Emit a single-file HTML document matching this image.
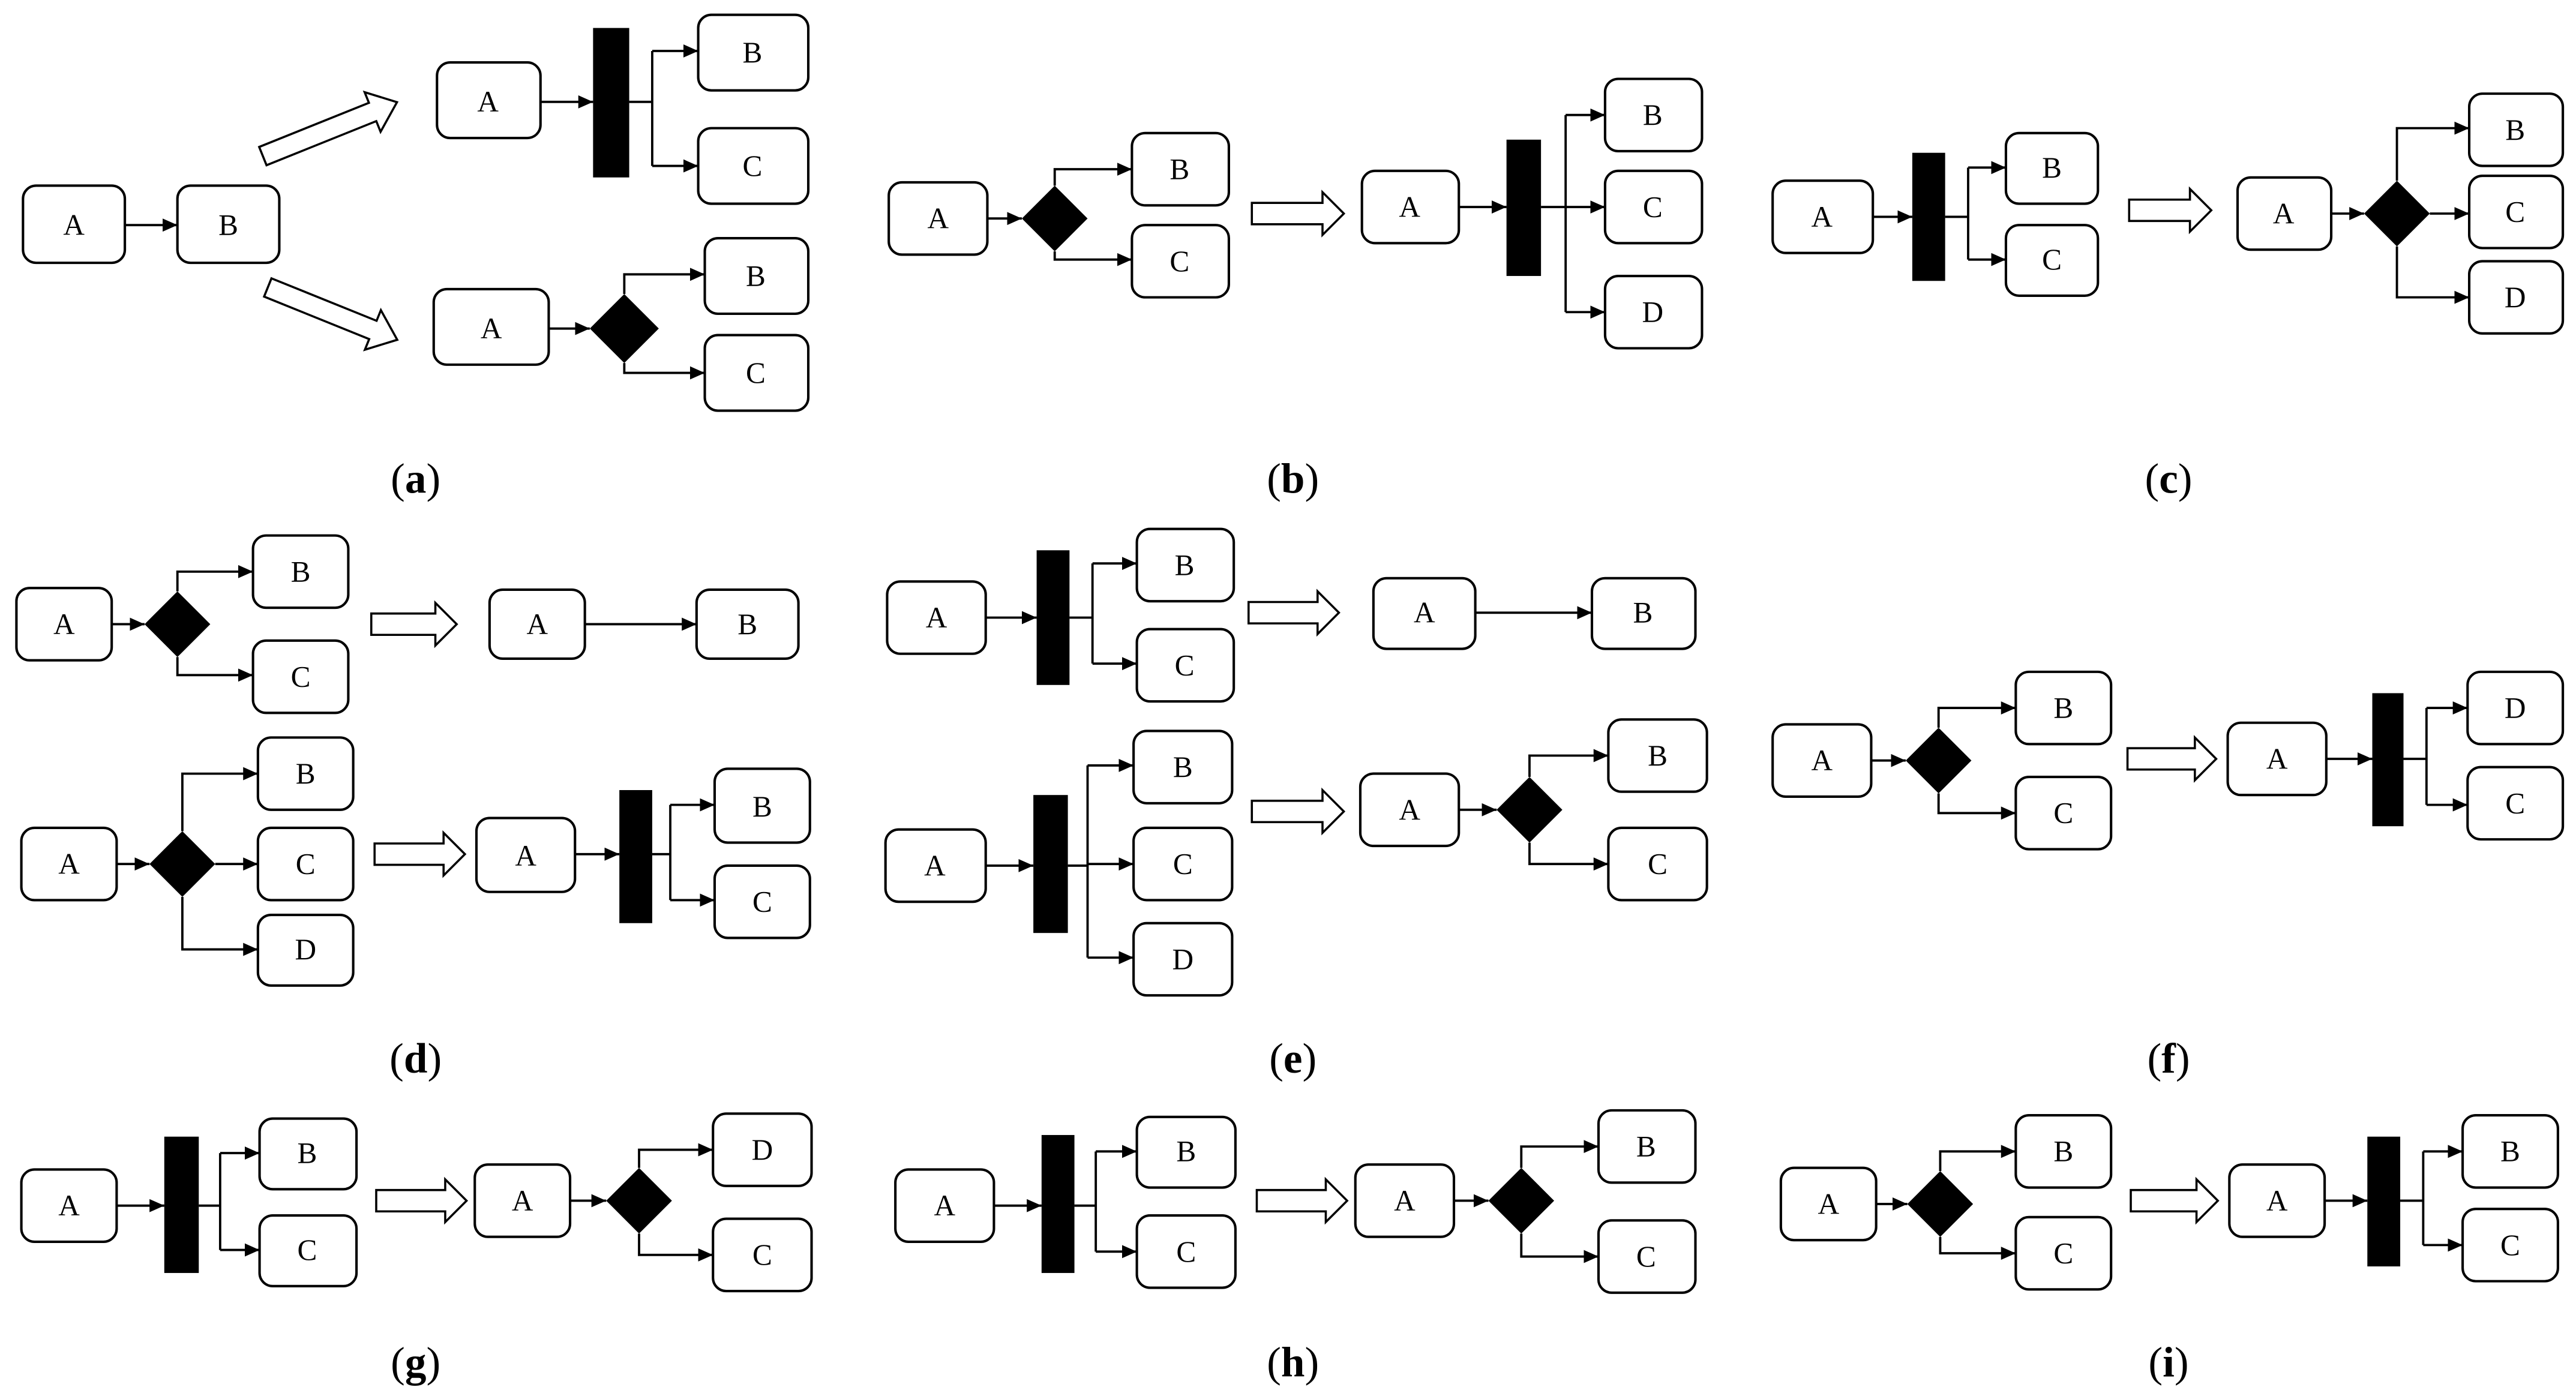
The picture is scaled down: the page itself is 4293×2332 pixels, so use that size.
<!DOCTYPE html>
<html><head><meta charset="utf-8"><style>
html,body{margin:0;padding:0;background:#fff;}
svg{display:block;}
text{font-family:"Liberation Serif",serif;fill:#000;}
.l{font-size:18px;text-anchor:middle;}
.cap{font-size:26px;text-anchor:middle;}
</style></head><body>
<svg width="4293" height="2332" viewBox="0 0 1568 851.7" xmlns="http://www.w3.org/2000/svg">
<defs>
<marker id="m" markerUnits="userSpaceOnUse" markerWidth="10" markerHeight="10" refX="9" refY="4" orient="auto"><path d="M0,0 L9,4 L0,8 z" fill="#000"/></marker>
</defs>
<g fill="#fff" stroke="#000" stroke-width="1.5">
<rect x="14" y="113" width="62" height="47" rx="8"/>
<rect x="108" y="113" width="62" height="47" rx="8"/>
<rect x="266" y="38" width="63" height="46" rx="8"/>
<rect x="425" y="9" width="67" height="46" rx="8"/>
<rect x="425" y="78" width="67" height="46" rx="8"/>
<rect x="264" y="176" width="70" height="46" rx="8"/>
<rect x="429" y="145" width="63" height="46" rx="8"/>
<rect x="429" y="204" width="63" height="46" rx="8"/>
<rect x="541" y="111" width="60" height="44" rx="8"/>
<rect x="689" y="81" width="59" height="44" rx="8"/>
<rect x="689" y="137" width="59" height="44" rx="8"/>
<rect x="829" y="104" width="59" height="44" rx="8"/>
<rect x="977" y="48" width="59" height="44" rx="8"/>
<rect x="977" y="104" width="59" height="44" rx="8"/>
<rect x="977" y="168" width="59" height="44" rx="8"/>
<rect x="1079" y="110" width="61" height="44" rx="8"/>
<rect x="1221" y="81" width="56" height="43" rx="8"/>
<rect x="1221" y="137" width="56" height="43" rx="8"/>
<rect x="1362" y="108" width="57" height="44" rx="8"/>
<rect x="1503" y="57" width="57" height="44" rx="8"/>
<rect x="1503" y="107" width="57" height="44" rx="8"/>
<rect x="1503" y="159" width="57" height="44" rx="8"/>
<rect x="10" y="358" width="58" height="44" rx="8"/>
<rect x="154" y="326" width="58" height="44" rx="8"/>
<rect x="154" y="390" width="58" height="44" rx="8"/>
<rect x="298" y="359" width="58" height="42" rx="8"/>
<rect x="424" y="359" width="62" height="42" rx="8"/>
<rect x="13" y="504" width="58" height="44" rx="8"/>
<rect x="157" y="449" width="58" height="44" rx="8"/>
<rect x="157" y="504" width="58" height="44" rx="8"/>
<rect x="157" y="557" width="58" height="43" rx="8"/>
<rect x="290" y="498" width="60" height="45" rx="8"/>
<rect x="435" y="468" width="58" height="45" rx="8"/>
<rect x="435" y="527" width="58" height="44" rx="8"/>
<rect x="540" y="354" width="60" height="44" rx="8"/>
<rect x="692" y="322" width="59" height="44" rx="8"/>
<rect x="692" y="383" width="59" height="44" rx="8"/>
<rect x="836" y="352" width="62" height="43" rx="8"/>
<rect x="969" y="352" width="63" height="43" rx="8"/>
<rect x="539" y="505" width="61" height="44" rx="8"/>
<rect x="690" y="445" width="60" height="44" rx="8"/>
<rect x="690" y="504" width="60" height="44" rx="8"/>
<rect x="690" y="562" width="60" height="44" rx="8"/>
<rect x="828" y="471" width="60" height="44" rx="8"/>
<rect x="979" y="438" width="60" height="44" rx="8"/>
<rect x="979" y="504" width="60" height="44" rx="8"/>
<rect x="1079" y="441" width="60" height="44" rx="8"/>
<rect x="1227" y="409" width="58" height="44" rx="8"/>
<rect x="1227" y="473" width="58" height="44" rx="8"/>
<rect x="1356" y="440" width="60" height="44" rx="8"/>
<rect x="1502" y="409" width="58" height="44" rx="8"/>
<rect x="1502" y="467" width="58" height="44" rx="8"/>
<rect x="13" y="712" width="58" height="44" rx="8"/>
<rect x="158" y="681" width="59" height="43" rx="8"/>
<rect x="158" y="740" width="59" height="43" rx="8"/>
<rect x="289" y="709" width="58" height="44" rx="8"/>
<rect x="434" y="678" width="60" height="44" rx="8"/>
<rect x="434" y="742" width="60" height="44" rx="8"/>
<rect x="545" y="712" width="60" height="44" rx="8"/>
<rect x="692" y="680" width="60" height="43" rx="8"/>
<rect x="692" y="740" width="60" height="44" rx="8"/>
<rect x="825" y="709" width="60" height="44" rx="8"/>
<rect x="973" y="676" width="59" height="44" rx="8"/>
<rect x="973" y="743" width="59" height="44" rx="8"/>
<rect x="1084" y="711" width="58" height="44" rx="8"/>
<rect x="1227" y="679" width="58" height="44" rx="8"/>
<rect x="1227" y="741" width="58" height="44" rx="8"/>
<rect x="1357" y="709" width="58" height="44" rx="8"/>
<rect x="1499" y="679" width="58" height="44" rx="8"/>
<rect x="1499" y="736" width="58" height="44" rx="8"/>
</g>

<g fill="#000">
<rect x="361" y="17" width="22" height="91"/>
<polygon points="359,200 380,179 401,200 380,221"/>
<polygon points="622,133 642,113 662,133 642,153"/>
<rect x="917" y="85" width="21" height="83"/>
<rect x="1164" y="93" width="20" height="78"/>
<polygon points="1439,130 1459,110 1479,130 1459,150"/>
<polygon points="88,380 108,360 128,380 108,400"/>
<polygon points="91,526 111,506 131,526 111,546"/>
<rect x="377" y="481" width="20" height="81"/>
<rect x="631" y="335" width="20" height="82"/>
<rect x="629" y="484" width="21" height="84"/>
<polygon points="911,493 931,473 951,493 931,513"/>
<polygon points="1160,463 1180,443 1200,463 1180,483"/>
<rect x="1444" y="422" width="19" height="81"/>
<rect x="100" y="692" width="21" height="83"/>
<polygon points="369,731 389,711 409,731 389,751"/>
<rect x="634" y="691" width="20" height="84"/>
<polygon points="906,731 926,711 946,731 926,751"/>
<polygon points="1161,733 1181,713 1201,733 1181,753"/>
<rect x="1441" y="692" width="20" height="79"/>
</g>

<g fill="none" stroke="#000" stroke-width="1.4">
<line x1="76" y1="137" x2="108" y2="137" marker-end="url(#m)"/>
<line x1="329" y1="62" x2="361" y2="62" marker-end="url(#m)"/>
<line x1="383" y1="62" x2="397" y2="62"/>
<line x1="397" y1="31" x2="397" y2="101"/>
<line x1="397" y1="31" x2="425" y2="31" marker-end="url(#m)"/>
<line x1="397" y1="101" x2="425" y2="101" marker-end="url(#m)"/>
<line x1="334" y1="200" x2="359" y2="200" marker-end="url(#m)"/>
<polyline points="380,179 380,167 429,167" marker-end="url(#m)"/>
<polyline points="380,221 380,227 429,227" marker-end="url(#m)"/>
<line x1="601" y1="133" x2="622" y2="133" marker-end="url(#m)"/>
<polyline points="642,113 642,103 689,103" marker-end="url(#m)"/>
<polyline points="642,153 642,158 689,158" marker-end="url(#m)"/>
<line x1="888" y1="126" x2="917" y2="126" marker-end="url(#m)"/>
<line x1="938" y1="126" x2="977" y2="126" marker-end="url(#m)"/>
<line x1="953" y1="70" x2="953" y2="190"/>
<line x1="953" y1="70" x2="977" y2="70" marker-end="url(#m)"/>
<line x1="953" y1="190" x2="977" y2="190" marker-end="url(#m)"/>
<line x1="1140" y1="132" x2="1164" y2="132" marker-end="url(#m)"/>
<line x1="1184" y1="132" x2="1198" y2="132"/>
<line x1="1198" y1="102" x2="1198" y2="158"/>
<line x1="1198" y1="102" x2="1221" y2="102" marker-end="url(#m)"/>
<line x1="1198" y1="158" x2="1221" y2="158" marker-end="url(#m)"/>
<line x1="1419" y1="130" x2="1439" y2="130" marker-end="url(#m)"/>
<polyline points="1459,110 1459,78 1503,78" marker-end="url(#m)"/>
<line x1="1479" y1="130" x2="1503" y2="130" marker-end="url(#m)"/>
<polyline points="1459,150 1459,181 1503,181" marker-end="url(#m)"/>
<line x1="68" y1="380" x2="88" y2="380" marker-end="url(#m)"/>
<polyline points="108,360 108,348 154,348" marker-end="url(#m)"/>
<polyline points="108,400 108,411 154,411" marker-end="url(#m)"/>
<line x1="356" y1="380" x2="424" y2="380" marker-end="url(#m)"/>
<line x1="71" y1="526" x2="91" y2="526" marker-end="url(#m)"/>
<polyline points="111,506 111,471 157,471" marker-end="url(#m)"/>
<line x1="131" y1="526" x2="157" y2="526" marker-end="url(#m)"/>
<polyline points="111,546 111,578 157,578" marker-end="url(#m)"/>
<line x1="350" y1="520" x2="377" y2="520" marker-end="url(#m)"/>
<line x1="397" y1="520" x2="408" y2="520"/>
<line x1="408" y1="490" x2="408" y2="548"/>
<line x1="408" y1="490" x2="435" y2="490" marker-end="url(#m)"/>
<line x1="408" y1="548" x2="435" y2="548" marker-end="url(#m)"/>
<line x1="600" y1="376" x2="631" y2="376" marker-end="url(#m)"/>
<line x1="651" y1="376" x2="665" y2="376"/>
<line x1="665" y1="343" x2="665" y2="404"/>
<line x1="665" y1="343" x2="692" y2="343" marker-end="url(#m)"/>
<line x1="665" y1="404" x2="692" y2="404" marker-end="url(#m)"/>
<line x1="898" y1="373" x2="969" y2="373" marker-end="url(#m)"/>
<line x1="600" y1="527" x2="629" y2="527" marker-end="url(#m)"/>
<line x1="650" y1="527" x2="662" y2="527"/>
<line x1="662" y1="466" x2="662" y2="583"/>
<line x1="662" y1="466" x2="690" y2="466" marker-end="url(#m)"/>
<line x1="662" y1="526" x2="690" y2="526" marker-end="url(#m)"/>
<line x1="662" y1="583" x2="690" y2="583" marker-end="url(#m)"/>
<line x1="888" y1="493" x2="911" y2="493" marker-end="url(#m)"/>
<polyline points="931,473 931,460 979,460" marker-end="url(#m)"/>
<polyline points="931,513 931,526 979,526" marker-end="url(#m)"/>
<line x1="1139" y1="463" x2="1160" y2="463" marker-end="url(#m)"/>
<polyline points="1180,443 1180,431 1227,431" marker-end="url(#m)"/>
<polyline points="1180,483 1180,495 1227,495" marker-end="url(#m)"/>
<line x1="1416" y1="462" x2="1444" y2="462" marker-end="url(#m)"/>
<line x1="1463" y1="462" x2="1477" y2="462"/>
<line x1="1477" y1="431" x2="1477" y2="490"/>
<line x1="1477" y1="431" x2="1502" y2="431" marker-end="url(#m)"/>
<line x1="1477" y1="490" x2="1502" y2="490" marker-end="url(#m)"/>
<line x1="71" y1="734" x2="100" y2="734" marker-end="url(#m)"/>
<line x1="121" y1="734" x2="134" y2="734"/>
<line x1="134" y1="702" x2="134" y2="761"/>
<line x1="134" y1="702" x2="158" y2="702" marker-end="url(#m)"/>
<line x1="134" y1="761" x2="158" y2="761" marker-end="url(#m)"/>
<line x1="347" y1="731" x2="369" y2="731" marker-end="url(#m)"/>
<polyline points="389,711 389,700 434,700" marker-end="url(#m)"/>
<polyline points="389,751 389,764 434,764" marker-end="url(#m)"/>
<line x1="605" y1="734" x2="634" y2="734" marker-end="url(#m)"/>
<line x1="654" y1="734" x2="667" y2="734"/>
<line x1="667" y1="701" x2="667" y2="762"/>
<line x1="667" y1="701" x2="692" y2="701" marker-end="url(#m)"/>
<line x1="667" y1="762" x2="692" y2="762" marker-end="url(#m)"/>
<line x1="885" y1="731" x2="906" y2="731" marker-end="url(#m)"/>
<polyline points="926,711 926,698 973,698" marker-end="url(#m)"/>
<polyline points="926,751 926,765 973,765" marker-end="url(#m)"/>
<line x1="1142" y1="733" x2="1161" y2="733" marker-end="url(#m)"/>
<polyline points="1181,713 1181,701 1227,701" marker-end="url(#m)"/>
<polyline points="1181,753 1181,763 1227,763" marker-end="url(#m)"/>
<line x1="1415" y1="731" x2="1441" y2="731" marker-end="url(#m)"/>
<line x1="1461" y1="731" x2="1475" y2="731"/>
<line x1="1475" y1="701" x2="1475" y2="758"/>
<line x1="1475" y1="701" x2="1499" y2="701" marker-end="url(#m)"/>
<line x1="1475" y1="758" x2="1499" y2="758" marker-end="url(#m)"/>
</g>

<g fill="#fff" stroke="#000" stroke-width="1.3">
<polygon transform="translate(160,95) rotate(-21.9)" points="0,-6 72,-6 72,-13 88,0 72,13 72,6 0,6"/>
<polygon transform="translate(163,175) rotate(22)" points="0,-6 69,-6 69,-13 85,0 69,13 69,6 0,6"/>
<polygon transform="translate(762,130)" points="0,-6.5 43,-6.5 43,-13 56,0 43,13 43,6.5 0,6.5"/>
<polygon transform="translate(1296,128)" points="0,-6.5 37,-6.5 37,-13 50,0 37,13 37,6.5 0,6.5"/>
<polygon transform="translate(226,380)" points="0,-6.5 39,-6.5 39,-13 52,0 39,13 39,6.5 0,6.5"/>
<polygon transform="translate(228,520)" points="0,-6.5 42,-6.5 42,-13 55,0 42,13 42,6.5 0,6.5"/>
<polygon transform="translate(760,373)" points="0,-6.5 42,-6.5 42,-13 55,0 42,13 42,6.5 0,6.5"/>
<polygon transform="translate(762,494)" points="0,-6.5 43,-6.5 43,-13 56,0 43,13 43,6.5 0,6.5"/>
<polygon transform="translate(1295,462)" points="0,-6.5 41,-6.5 41,-13 54,0 41,13 41,6.5 0,6.5"/>
<polygon transform="translate(229,731)" points="0,-6.5 42,-6.5 42,-13 55,0 42,13 42,6.5 0,6.5"/>
<polygon transform="translate(765,731)" points="0,-6.5 42,-6.5 42,-13 55,0 42,13 42,6.5 0,6.5"/>
<polygon transform="translate(1297,731)" points="0,-6.5 40,-6.5 40,-13 53,0 40,13 40,6.5 0,6.5"/>
</g>

<g>
<text class="l" x="45" y="143">A</text><text class="l" x="139" y="143">B</text>
<text class="l" x="297" y="68">A</text><text class="l" x="458" y="38">B</text><text class="l" x="458" y="107">C</text>
<text class="l" x="299" y="206">A</text><text class="l" x="460" y="174">B</text><text class="l" x="460" y="233">C</text>
<text class="l" x="571" y="139">A</text><text class="l" x="718" y="109">B</text><text class="l" x="718" y="165">C</text>
<text class="l" x="858" y="132">A</text><text class="l" x="1006" y="76">B</text><text class="l" x="1006" y="132">C</text><text class="l" x="1006" y="196">D</text>
<text class="l" x="1109" y="138">A</text><text class="l" x="1249" y="108">B</text><text class="l" x="1249" y="164">C</text>
<text class="l" x="1390" y="136">A</text><text class="l" x="1531" y="85">B</text><text class="l" x="1531" y="135">C</text><text class="l" x="1531" y="187">D</text>
<text class="l" x="39" y="386">A</text><text class="l" x="183" y="354">B</text><text class="l" x="183" y="418">C</text>
<text class="l" x="327" y="386">A</text><text class="l" x="455" y="386">B</text>
<text class="l" x="42" y="532">A</text><text class="l" x="186" y="477">B</text><text class="l" x="186" y="532">C</text><text class="l" x="186" y="584">D</text>
<text class="l" x="320" y="527">A</text><text class="l" x="464" y="497">B</text><text class="l" x="464" y="555">C</text>
<text class="l" x="570" y="382">A</text><text class="l" x="721" y="350">B</text><text class="l" x="721" y="411">C</text>
<text class="l" x="867" y="379">A</text><text class="l" x="1000" y="379">B</text>
<text class="l" x="569" y="533">A</text><text class="l" x="720" y="473">B</text><text class="l" x="720" y="532">C</text><text class="l" x="720" y="590">D</text>
<text class="l" x="858" y="499">A</text><text class="l" x="1009" y="466">B</text><text class="l" x="1009" y="532">C</text>
<text class="l" x="1109" y="469">A</text><text class="l" x="1256" y="437">B</text><text class="l" x="1256" y="501">C</text>
<text class="l" x="1386" y="468">A</text><text class="l" x="1531" y="437">D</text><text class="l" x="1531" y="495">C</text>
<text class="l" x="42" y="740">A</text><text class="l" x="187" y="708">B</text><text class="l" x="187" y="767">C</text>
<text class="l" x="318" y="737">A</text><text class="l" x="464" y="706">D</text><text class="l" x="464" y="770">C</text>
<text class="l" x="575" y="740">A</text><text class="l" x="722" y="707">B</text><text class="l" x="722" y="768">C</text>
<text class="l" x="855" y="737">A</text><text class="l" x="1002" y="704">B</text><text class="l" x="1002" y="771">C</text>
<text class="l" x="1113" y="739">A</text><text class="l" x="1256" y="707">B</text><text class="l" x="1256" y="769">C</text>
<text class="l" x="1386" y="737">A</text><text class="l" x="1528" y="707">B</text><text class="l" x="1528" y="764">C</text>
</g>

<g>
<text class="cap" x="253" y="300">(<tspan font-weight="bold">a</tspan>)</text>
<text class="cap" x="787" y="300">(<tspan font-weight="bold">b</tspan>)</text>
<text class="cap" x="1320" y="300">(<tspan font-weight="bold">c</tspan>)</text>
<text class="cap" x="253" y="653">(<tspan font-weight="bold">d</tspan>)</text>
<text class="cap" x="787" y="653">(<tspan font-weight="bold">e</tspan>)</text>
<text class="cap" x="1320" y="653">(<tspan font-weight="bold">f</tspan>)</text>
<text class="cap" x="253" y="838">(<tspan font-weight="bold">g</tspan>)</text>
<text class="cap" x="787" y="838">(<tspan font-weight="bold">h</tspan>)</text>
<text class="cap" x="1320" y="838">(<tspan font-weight="bold">i</tspan>)</text>
</g>
</svg>
</body></html>
